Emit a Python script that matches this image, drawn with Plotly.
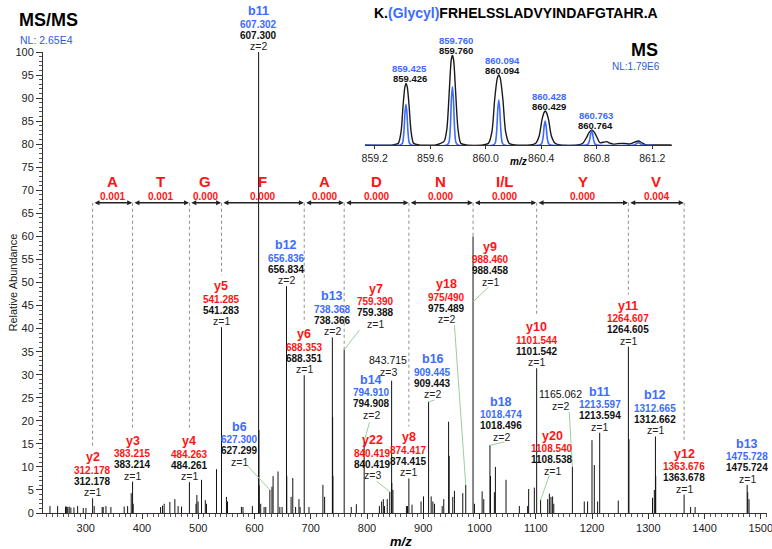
import plotly.graph_objects as go

FONT = "Liberation Sans, Arial, Helvetica, sans-serif"
RED = "#ff1414"
BLUE = "#3b6cff"
NL_BLUE = "#2f5bd3"
LEADER = "#9ccf9c"
DOTS = "#8c8c8c"
INK = "#111111"

# ---- MS/MS centroids without an assignment (m/z, relative abundance %) ----
other_mz = [236.4, 250.0, 264.0, 266.0, 268.0, 270.5, 273.5, 279.0, 285.6, 295.6,
            300.4, 315.0, 329.2, 331.0, 335.9, 344.7, 368.3, 374.4, 380.8, 384.3,
            433.0, 436.5, 439.4, 449.5, 458.4, 464.2, 470.2, 496.0, 497.5, 499.7,
            505.8, 512.5, 514.6, 532.4, 550.1, 552.0, 576.7, 579.5, 596.2, 607.8,
            608.3, 611.0, 617.0, 620.0, 631.0, 633.0, 641.8, 645.0, 649.0, 657.34,
            665.0, 668.0, 673.0, 679.0, 681.0, 696.8, 721.6, 724.6, 738.87, 739.37,
            772.0, 781.0, 822.0, 826.0, 829.0, 831.0, 836.0, 844.05, 846.0, 870.0,
            872.0, 880.0, 896.0, 900.4, 914.0, 917.0, 920.0, 933.6, 936.4, 945.0,
            946.0, 952.4, 955.4, 970.2, 991.0, 1004.6, 1007.5, 1019.5, 1026.4, 1028.2,
            1047.1, 1070.8, 1085.5, 1087.3, 1097.4, 1121.1, 1124.1, 1127.0, 1129.9, 1132.0,
            1186.2, 1192.1, 1199.9, 1204.0, 1209.9, 1246.6, 1265.6, 1307.5, 1310.7, 1313.2,
            1375.2, 1383.2, 1476.7, 1479.0]
other_int = [1.5, 1.5, 1.4, 1.4, 1.3, 1.4, 1.2, 1.2, 1.5, 1.1,
             1.1, 1.5, 1.3, 1.3, 1.5, 1.3, 1.4, 1.5, 4.3, 2.0,
             1.3, 1.6, 2.0, 2.4, 3.0, 1.5, 1.4, 2.0, 3.9, 2.5,
             7.2, 2.8, 2.0, 9.5, 3.5, 2.5, 1.3, 1.3, 1.5, 18.0,
             6.0, 2.0, 1.3, 1.3, 5.7, 8.0, 9.0, 1.3, 1.3, 8.0,
             3.5, 7.6, 1.3, 3.0, 1.3, 1.3, 6.1, 3.5, 20.8, 8.0,
             1.3, 1.9, 1.5, 2.5, 3.0, 1.5, 3.0, 6.5, 5.0, 1.5,
             1.5, 1.8, 2.5, 3.6, 3.6, 2.5, 2.0, 1.5, 3.0, 19.8,
             12.4, 3.5, 4.8, 4.3, 2.0, 4.7, 3.0, 8.0, 4.5, 10.0,
             7.2, 1.5, 1.5, 5.2, 5.5, 3.0, 4.2, 3.5, 3.6, 2.0,
             2.5, 2.5, 15.8, 10.4, 2.5, 2.7, 16.0, 3.3, 5.0, 8.0,
             1.3, 1.3, 4.5, 3.0]

# ---- assigned fragment ions ----
ion_name = ["y2", "y3", "y4", "y5", "b11", "b6", "b12", "y6", "b13", "y7",
            "b14", "y22", "", "y8", "b16", "y18", "y9", "b18", "y10", "y20",
            "", "b11", "y11", "b12", "y12", "b13"]
ion_theo = ["312.178", "383.215", "484.263", "541.285", "607.302", "627.300", "656.836",
            "688.353", "738.368", "759.390", "794.910", "840.419", "", "874.417",
            "909.445", "975/490", "988.460", "1018.474", "1101.544", "1108.540", "",
            "1213.597", "1264.607", "1312.665", "1363.676", "1475.728"]
ion_obs = ["312.178", "383.214", "484.261", "541.283", "607.300", "627.299", "656.834",
           "688.351", "738.366", "759.388", "794.908", "840.419", "843.715", "874.415",
           "909.443", "975.489", "988.458", "1018.496", "1101.542", "1108.538", "1165.062",
           "1213.594", "1264.605", "1312.662", "1363.678", "1475.724"]
ion_z = [1, 1, 1, 1, 2, 1, 2, 1, 2, 1, 2, 3, 3, 1, 2, 2, 1, 2, 1, 1, 2, 1, 1, 1, 1, 1]
ion_int = [3.2, 6.8, 6.7, 40.3, 100.0, 5.0, 49.2, 29.9, 38.1, 35.4,
           15.5, 4.6, 28.7, 7.5, 24.1, 6.1, 60.0, 14.7, 31.4, 2.8,
           10.0, 17.4, 36.1, 16.6, 4.0, 6.1]

# ---- y-ion sequence ladder ----
ladder_ions = ["y2", "y3", "y4", "y5", "y6", "y7", "y8", "y9", "y10", "y11", "y12"]
ladder_res = ["A", "T", "G", "F", "A", "D", "N", "I/L", "Y", "V"]
ladder_err = ["0.001", "0.001", "0.000", "0.000", "0.000", "0.000", "0.000", "0.000", "0.000", "0.004"]

# ---- precursor isotope envelope (inset, relative units) ----
ms1_obs_x = [859.13, 859.33, 859.37, 859.39, 859.405, 859.417, 859.426, 859.435, 859.447, 859.462, 859.48, 859.52,
             859.64, 859.67, 859.70, 859.72, 859.738, 859.751, 859.760, 859.769, 859.782, 859.80, 859.82, 859.86,
             859.98, 860.02, 860.045, 860.064, 860.083, 860.094, 860.105, 860.124, 860.143, 860.168, 860.21,
             860.32, 860.36, 860.385, 860.405, 860.42, 860.429, 860.438, 860.453, 860.473, 860.50, 860.54,
             860.66, 860.70, 860.725, 860.745, 860.764, 860.783, 860.803, 860.822, 860.845, 860.872, 860.895,
             860.92, 860.95, 860.98, 861.01, 861.04, 861.07, 861.10, 861.125, 861.15, 861.20, 861.34]
ms1_obs_y = [0, 0, 2, 15, 45, 64, 68.5, 64, 45, 15, 2, 0,
             0, 1.5, 4, 18, 62, 94, 100, 94, 62, 18, 2, 0,
             0, 2, 15, 50, 74, 77.8, 74, 50, 15, 2, 0,
             0, 2, 10, 28, 36, 37.8, 36, 28, 10, 2, 0,
             0, 2, 8, 14, 16.7, 14, 8, 2.5, 3, 3.7, 2,
             1, 1.5, 1.8, 1.5, 1.2, 3, 4.4, 2.5, 0.5, 0, 0]
ms1_theo_x = [859.13, 859.385, 859.40, 859.41, 859.418, 859.425, 859.432, 859.44, 859.45, 859.465,
              859.72, 859.735, 859.745, 859.753, 859.760, 859.767, 859.775, 859.785, 859.80,
              860.054, 860.069, 860.079, 860.087, 860.094, 860.101, 860.109, 860.119, 860.134,
              860.388, 860.403, 860.413, 860.421, 860.428, 860.435, 860.443, 860.453, 860.468,
              860.723, 860.738, 860.748, 860.756, 860.763, 860.770, 860.778, 860.788, 860.803,
              861.07, 861.09, 861.10, 861.11, 861.13, 861.20]
ms1_theo_y = [0, 0, 2, 14, 36, 45.2, 36, 14, 2, 0,
              0, 3, 20, 52, 64.8, 52, 20, 3, 0,
              0, 2.5, 16, 40, 50, 40, 16, 2.5, 0,
              0, 1.5, 8, 21, 26.7, 21, 8, 1.5, 0,
              0, 1, 5, 12.5, 15.9, 12.5, 5, 1, 0,
              0, 2, 2.6, 2, 0, 0]
ms1_obs_labels = ["859.426", "859.760", "860.094", "860.429", "860.764"]
ms1_obs_apex = [68.5, 100, 77.8, 37.8, 16.7]
ms1_theo_labels = ["859.425", "859.760", "860.094", "860.428", "860.763"]
ms1_theo_apex = [45.2, 64.8, 50, 26.7, 15.9]

# ---- geometry of the main panel ----
W, H = 772, 549
ML, MR, MT, MB = 43, 5, 52, 36
PX = (H - MT - MB) / 100.0          # pixels per % abundance
LADDER_Y = 67.3                      # abundance level of the ladder arrows

# label stacks that sit away from their peak: obs m/z -> (label m/z, label level)
label_at = {
    "627.299": (573.7, 9.8),
    "759.388": (815.2, 39.7),
    "794.908": (807.5, 20.0),
    "840.419": (810.4, 6.9),
    "843.715": (837.5, 29.2),
    "909.443": (917.0, 24.5),
    "975.489": (941.8, 40.7),
    "988.458": (1018.8, 48.9),
    "1018.496": (1038.6, 15.2),
    "1165.062": (1143.6, 21.9),
    "1108.538": (1129.4, 7.9),
}
# leader lines: obs m/z -> (start m/z, start level, end level or None for peak top)
leaders = {
    "627.299": (588.0, 10.2, None),
    "759.388": (786.8, 39.7, None),
    "794.908": (804.4, 19.7, None),
    "840.419": (817.1, 6.9, None),
    "909.443": (920.1, 24.5, None),
    "975.489": (955.4, 40.7, None),
    "988.458": (1015.8, 49.0, 45.8),
    "1018.496": (1044.1, 15.4, None),
    "1165.062": (1159.5, 21.9, None),
    "1108.538": (1124.1, 8.2, None),
}

fig = go.Figure()

# stick spectrum
sx, sy = [], []
for m, h in zip(other_mz + [float(v) for v in ion_obs], other_int + ion_int):
    sx += [m, m, None]
    sy += [0, h, None]
fig.add_trace(go.Scatter(x=sx, y=sy, mode="lines", line=dict(color=INK, width=1),
                         hoverinfo="skip", showlegend=False))

# leader lines
lx, ly = [], []
for i, obs in enumerate(ion_obs):
    if obs in leaders:
        s_mz, s_lv, e_lv = leaders[obs]
        lx += [s_mz, float(obs), None]
        ly += [s_lv, ion_int[i] if e_lv is None else e_lv, None]
fig.add_trace(go.Scatter(x=lx, y=ly, mode="lines", line=dict(color=LEADER, width=1),
                         hoverinfo="skip", showlegend=False))

# dotted drop lines from the ladder to each y ion
ion_idx = {n: i for i, n in enumerate(ion_name) if n.startswith("y") and ion_obs[i] not in ("975.489", "1108.538", "840.419")}
dx, dy = [], []
for n in ladder_ions:
    i = ion_idx[n]
    m = float(ion_theo[i])
    if ion_obs[i] in label_at:
        end = ion_int[i]
    else:
        end = ion_int[i] + 52 / PX
    dx += [m, m, None]
    dy += [LADDER_Y, end, None]
fig.add_trace(go.Scatter(x=dx, y=dy, mode="lines", line=dict(color=DOTS, width=1, dash="dot"),
                         hoverinfo="skip", showlegend=False))

# inset isotope envelope
fig.add_trace(go.Scatter(x=ms1_obs_x, y=ms1_obs_y, xaxis="x2", yaxis="y2", mode="lines",
                         line=dict(color="#1a1a1a", width=1.4, shape="spline", smoothing=0.7),
                         hoverinfo="skip", showlegend=False))
fig.add_trace(go.Scatter(x=ms1_theo_x, y=ms1_theo_y, xaxis="x2", yaxis="y2", mode="lines",
                         line=dict(color=BLUE, width=1.6, shape="spline", smoothing=0.7),
                         hoverinfo="skip", showlegend=False))

ann = []


def txt(x, y, text, size, color, yshift=0, xshift=0, bold=False, xref="x", yref="y", **kw):
    t = f"<b>{text}</b>" if bold else text
    d = dict(x=x, y=y, xref=xref, yref=yref, text=t, showarrow=False,
             font=dict(family=FONT, size=size, color=color),
             yshift=yshift, xshift=xshift, xanchor="center", yanchor="middle")
    d.update(kw)
    ann.append(d)


# fragment ion label stacks
for i, obs in enumerate(ion_obs):
    lm, lv = label_at.get(obs, (float(obs), ion_int[i]))
    name = ion_name[i]
    if name:
        col = BLUE if name.startswith("b") else RED
        txt(lm, lv, f"z={ion_z[i]}", 10.5, "#222222", yshift=6)
        txt(lm, lv, obs, 10, INK, yshift=17, bold=True)
        txt(lm, lv, ion_theo[i], 10, col, yshift=28, bold=True)
        txt(lm, lv, name, 12.5, col, yshift=41, bold=True)
    else:
        txt(lm, lv, f"z={ion_z[i]}", 10.5, "#222222", yshift=6)
        txt(lm, lv, obs, 10.5, INK, yshift=18)

# sequence ladder
bounds = [float(ion_theo[ion_idx[n]]) for n in ladder_ions]
for k in range(len(ladder_res)):
    a, b = bounds[k], bounds[k + 1]
    ann.append(dict(x=b, y=LADDER_Y, ax=a, ay=LADDER_Y, xref="x", yref="y", axref="x", ayref="y",
                    text="", showarrow=True, arrowside="end+start", arrowhead=2, startarrowhead=2,
                    arrowsize=0.75, startarrowsize=0.75, arrowwidth=1.3, arrowcolor="#222222",
                    standoff=0.5, startstandoff=0.5))
    txt((a + b) / 2, LADDER_Y, ladder_res[k], 15, RED, yshift=21, bold=True)
    txt((a + b) / 2, LADDER_Y, ladder_err[k], 10, RED, yshift=6, bold=True)

# inset peak labels (theoretical above observed)
for k in range(5):
    m = float(ms1_theo_labels[k])
    txt(m, ms1_obs_apex[k], ms1_theo_labels[k], 9.5, BLUE, yshift=14.5, xshift=4,
        bold=True, xref="x2", yref="y2")
    txt(m, ms1_obs_apex[k], ms1_obs_labels[k], 9.5, INK, yshift=4.5, xshift=4,
        bold=True, xref="x2", yref="y2")


def paper(px, py):
    return (px - ML) / (W - ML - MR), (H - MB - py) / (H - MT - MB)


# titles and panel texts
x0, y0 = paper(17, 20)
ann.append(dict(x=x0, y=y0, xref="paper", yref="paper", text="<b>MS/MS</b>", showarrow=False,
                xanchor="left", yanchor="middle", font=dict(family=FONT, size=18, color="#000")))
x0, y0 = paper(18, 40)
ann.append(dict(x=x0, y=y0, xref="paper", yref="paper", text="NL: 2.65E4", showarrow=False,
                xanchor="left", yanchor="middle", font=dict(family=FONT, size=10.5, color=NL_BLUE)))
x0, y0 = paper(371.7, 13)
ann.append(dict(x=x0, y=y0, xref="paper", yref="paper",
                text=f"<b>K.<span style='color:{BLUE}'>(Glycyl)</span>FRHELSSLADVYINDAFGTAHR.A</b>",
                showarrow=False, xanchor="left", yanchor="middle",
                font=dict(family=FONT, size=14, color="#000")))
x0, y0 = paper(660, 50)
ann.append(dict(x=x0, y=y0, xref="paper", yref="paper", text="<b>MS</b>", showarrow=False,
                xanchor="right", yanchor="middle", font=dict(family=FONT, size=18, color="#000")))
x0, y0 = paper(661.7, 66)
ann.append(dict(x=x0, y=y0, xref="paper", yref="paper", text="NL:1.79E6", showarrow=False,
                xanchor="right", yanchor="middle", font=dict(family=FONT, size=10, color=NL_BLUE)))
x0, y0 = paper(518, 161)
ann.append(dict(x=x0, y=y0, xref="paper", yref="paper", text="<b><i>m/z</i></b>", showarrow=False,
                xanchor="center", yanchor="middle", font=dict(family=FONT, size=10, color="#000")))
x0, y0 = paper(401, 541.7)
ann.append(dict(x=x0, y=y0, xref="paper", yref="paper", text="<b><i>m/z</i></b>", showarrow=False,
                xanchor="center", yanchor="middle", font=dict(family=FONT, size=13, color="#000")))
x0, y0 = paper(12, 282.5)
ann.append(dict(x=x0, y=y0, xref="paper", yref="paper", text="Relative Abundance", showarrow=False,
                textangle=-90, xanchor="center", yanchor="middle",
                font=dict(family=FONT, size=11, color="#222")))

ix0, _ = paper(365, 0)
ix1, _ = paper(671.7, 0)
_, iy0 = paper(0, 145)
_, iy1 = paper(0, 55)

fig.update_layout(
    width=W, height=H,
    margin=dict(l=ML, r=MR, t=MT, b=MB),
    paper_bgcolor="white", plot_bgcolor="white",
    showlegend=False,
    font=dict(family=FONT, color="#222"),
    xaxis=dict(range=[224, 1511], tick0=0, dtick=100, showgrid=False, zeroline=False,
               showline=True, linecolor="#333", linewidth=1, ticks="outside", ticklen=5,
               tickcolor="#333", tickfont=dict(family=FONT, size=11, color="#222"),
               ticklabeloverflow="allow", automargin=False,
               minor=dict(dtick=10, ticks="outside", ticklen=3, tickcolor="#555")),
    yaxis=dict(range=[0, 100], tick0=0, dtick=5, showgrid=False, zeroline=False,
               showline=True, linecolor="#333", linewidth=1, ticks="outside", ticklen=6,
               tickcolor="#333", tickfont=dict(family=FONT, size=11, color="#222"),
               automargin=False,
               minor=dict(dtick=1, ticks="outside", ticklen=3, tickcolor="#555")),
    xaxis2=dict(domain=[ix0, ix1], anchor="y2", range=[859.13, 861.34], tick0=859.2, dtick=0.4,
                tickformat=".1f", showgrid=False, zeroline=False, showline=True, linecolor="#333",
                linewidth=1, ticks="outside", ticklen=3, tickcolor="#333", automargin=False,
                tickfont=dict(family=FONT, size=10.5, color="#222")),
    yaxis2=dict(domain=[iy0, iy1], anchor="x2", range=[0, 100], visible=False),
    annotations=ann,
)

fig.write_html("out.html")
